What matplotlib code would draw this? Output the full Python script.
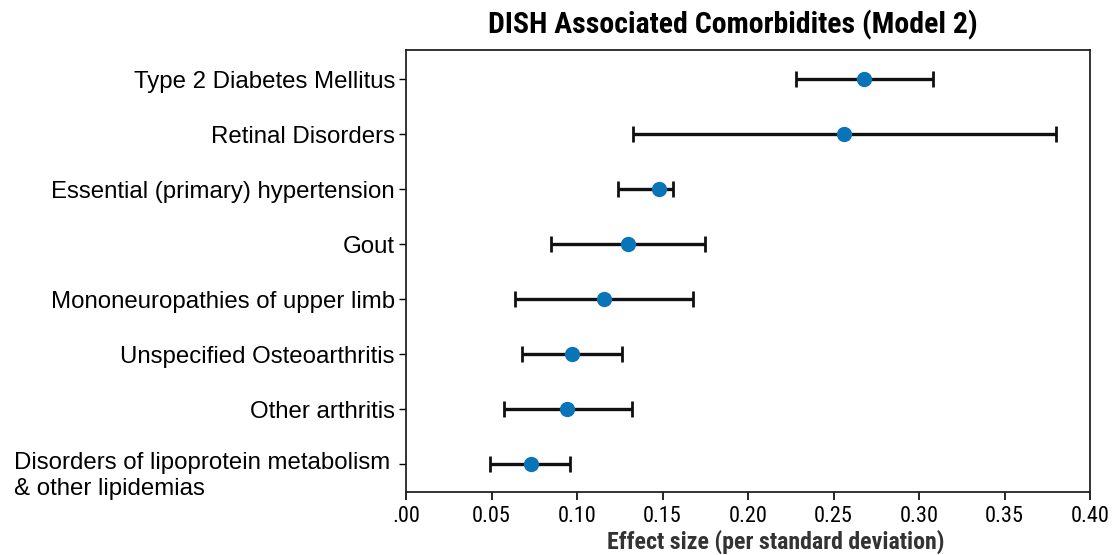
import matplotlib
matplotlib.use("Agg")
import matplotlib.pyplot as plt
from matplotlib import font_manager
from matplotlib.transforms import blended_transform_factory

categories = [
    "Type 2 Diabetes Mellitus",
    "Retinal Disorders",
    "Essential (primary) hypertension",
    "Gout",
    "Mononeuropathies of upper limb",
    "Unspecified Osteoarthritis",
    "Other arthritis",
    "Disorders of lipoprotein metabolism\n& other lipidemias",
]
effect = [0.268, 0.256, 0.148, 0.130, 0.116, 0.097, 0.094, 0.073]
ci_low = [0.228, 0.133, 0.124, 0.085, 0.064, 0.068, 0.057, 0.049]
ci_high = [0.308, 0.380, 0.156, 0.175, 0.168, 0.126, 0.132, 0.096]
xticks = [0.0, 0.05, 0.10, 0.15, 0.20, 0.25, 0.30, 0.35, 0.40]
xticklabels = [".00", "0.05", "0.10", "0.15", "0.20", "0.25", "0.30", "0.35", "0.40"]

names = {f.name for f in font_manager.fontManager.ttflist}
narrow = "Open Sans"
for cand in ["Roboto Condensed", "Open Sans Condensed", "Liberation Sans Narrow"]:
    if cand in names:
        narrow = cand
        break
label_font = "Liberation Sans" if "Liberation Sans" in names else "DejaVu Sans"

fig = plt.figure(figsize=(11.14, 5.55), dpi=100)
ax = fig.add_axes([0.3645, 0.1135, 0.614, 0.7965])

n = len(categories)
ypos = [n - 1 - i for i in range(n)]
xerr = [[e - l for e, l in zip(effect, ci_low)], [h - e for e, h in zip(effect, ci_high)]]
ax.errorbar(effect, ypos, xerr=xerr, fmt="o", color="#111111", ecolor="#111111",
            elinewidth=2.4, capsize=5.5, capthick=2.0,
            markerfacecolor="#0a74b8", markeredgecolor="#0a74b8", markersize=10, zorder=3)

ax.set_xlim(0, 0.40)
ax.set_ylim(-0.5, n - 0.47)
ax.set_xticks(xticks)
ax.set_xticklabels(xticklabels, fontfamily=narrow, fontstretch="condensed", fontsize=16)
ax.set_yticks(ypos)
# single-line labels as tick labels; multi-line label drawn as text so it can sit top-aligned
ax.set_yticklabels([c if "\n" not in c else "" for c in categories],
                   fontfamily=label_font, fontsize=17.3)
trans = blended_transform_factory(ax.transAxes, ax.transData)
for c, y in zip(categories, ypos):
    if "\n" in c:
        ax.text(-0.023, y + 0.23, c, transform=trans, ha="right", va="top",
                multialignment="left", fontfamily=label_font, fontsize=17.3,
                linespacing=1.25, clip_on=False)

ax.tick_params(axis="x", length=6, width=1.2, pad=4)
ax.tick_params(axis="y", length=5, width=1.0, pad=3)
for s in ax.spines.values():
    s.set_linewidth(1.3)
    s.set_color("#222222")

ax.set_xlabel("Effect size (per standard deviation)", fontfamily=narrow, fontstretch="condensed",
              fontweight="bold", fontsize=17.2, labelpad=2, color="#333333")
ax.xaxis.set_label_coords(0.541, -0.085)
ax.set_title("DISH Associated Comorbidites (Model 2)", fontfamily=narrow, fontstretch="condensed",
             fontweight="bold", fontsize=21.5, pad=12, x=0.477)

fig.savefig("out.png", dpi=100)
